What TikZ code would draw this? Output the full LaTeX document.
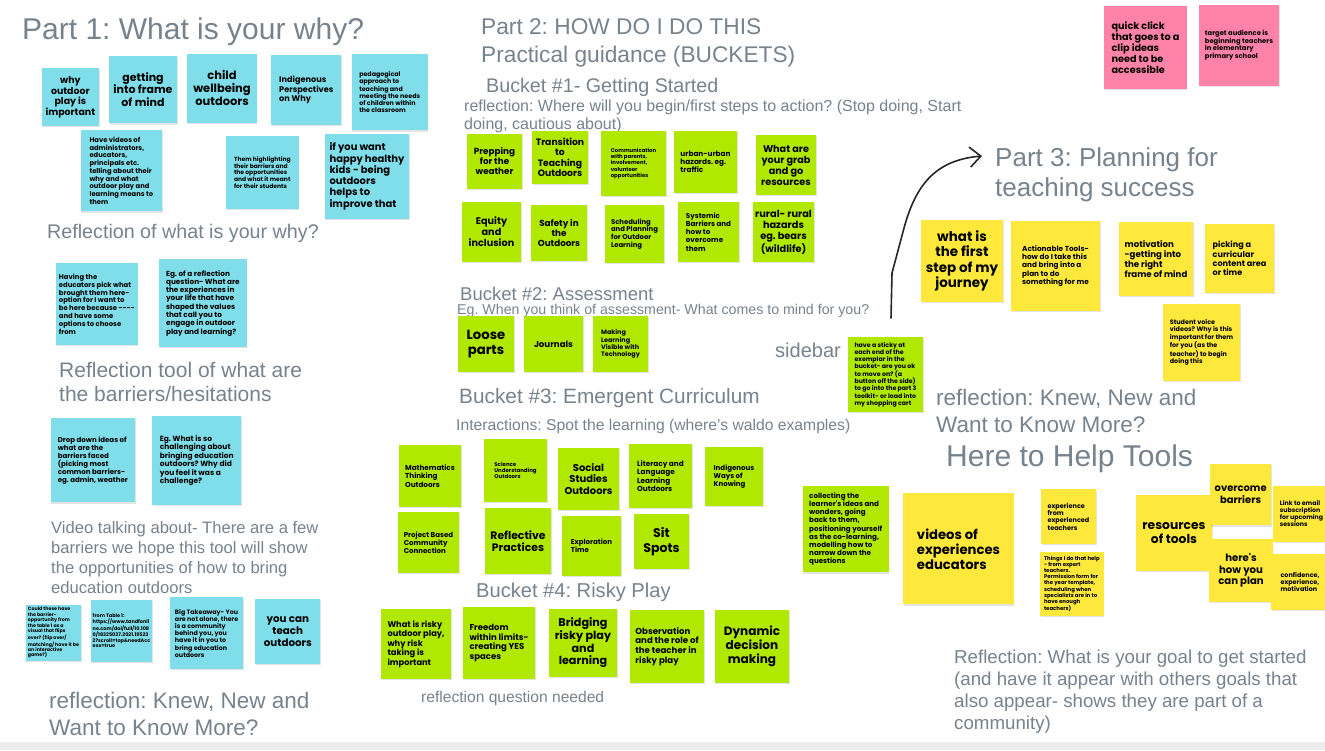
\documentclass[tikz,border=0pt]{standalone}
\usepackage{fontspec}
\setmainfont{Liberation Sans}
\newfontfamily\stkfont{Poppins}
\usetikzlibrary{shadows,arrows.meta}
\definecolor{stcyan}{HTML}{7FDEEA}
\definecolor{stgreen}{HTML}{B0E800}
\definecolor{styellow}{HTML}{FEE83C}
\definecolor{stpink}{HTML}{FF82A9}
\definecolor{hdgray}{HTML}{76838D}
\definecolor{bandgray}{HTML}{EDEDED}
\frenchspacing
\tikzset{
 sticky/.style={rectangle, inner sep=0pt, outer sep=0pt, text=black,
   drop shadow={opacity=0.22, shadow xshift=0.6pt, shadow yshift=-1.4pt}},
 hd/.style={text=hdgray, inner sep=0pt, align=left},
}
% #1 name #2 colour #3 x0 #4 y0 #5 x1 #6 y1 #7 align #8 line spacing #9 text
\newcommand\stk[9]{%
 \pgfmathsetmacro\stkW{#5-#3}%
 \pgfmathsetmacro\stkH{#6-#4}%
 \pgfmathsetmacro\stkX{(#3+#5)/2}%
 \pgfmathsetmacro\stkY{(#4+#6)/2}%
 \pgfmathsetmacro\stkF{#8*0.88}%
 \node[sticky, fill=#2, minimum width=\stkW pt, minimum height=\stkH pt, align=#7,
   font=\stkfont\bfseries\fontsize{\stkF}{#8}\selectfont] (#1) at (\stkX,\stkY) {#9};}
\begin{document}
\frenchspacing
\begin{tikzpicture}[x=1pt,y=-1pt]
\useasboundingbox (0,0) rectangle (1325,750);
\fill[white] (0,0) rectangle (1325,750);
\fill[bandgray] (0,742) rectangle (1325,750);

% ---------- headings ----------
\node[hd, anchor=base west, font=\fontsize{30}{36}\selectfont] (h1) at (22,39) {Part 1: What is your why?};
\node[hd, anchor=north west, font=\fontsize{22.7}{27.7}\selectfont] (h2) at (481,18.3) {Part 2: HOW DO I DO THIS\\Practical guidance (BUCKETS)};
\node[hd, anchor=base west, font=\fontsize{19.7}{24}\selectfont] (b1) at (486,92.3) {Bucket \#1- Getting Started};
\node[hd, anchor=north west, font=\fontsize{16}{18}\selectfont] (r1) at (464,99.5) {reflection: Where will you begin/first steps to action? (Stop doing, Start\\doing, cautious about)};
\node[hd, anchor=base west, font=\fontsize{19.7}{24}\selectfont] (r2) at (47,238) {Reflection of what is your why?};
\node[hd, anchor=north west, font=\fontsize{21}{24.5}\selectfont] (r3) at (59,362) {Reflection tool of what are\\the barriers/hesitations};
\node[hd, anchor=north west, font=\fontsize{16.6}{20}\selectfont] (r4) at (51,521) {Video talking about- There are a few\\barriers we hope this tool will show\\the opportunities of how to bring\\education outdoors};
\node[hd, anchor=north west, font=\fontsize{22.5}{27}\selectfont] (r5) at (49,692) {reflection: Knew, New and\\Want to Know More?};
\node[hd, anchor=base west, font=\fontsize{18.5}{22}\selectfont] (b2) at (460,300.5) {Bucket \#2: Assessment};
\node[hd, anchor=base west, font=\fontsize{14.2}{17}\selectfont] (r6) at (457,314.5) {Eg. When you think of assessment- What comes to mind for you?};
\node[hd, anchor=base west, font=\fontsize{20}{24}\selectfont] (sb) at (775,357.5) {sidebar};
\node[hd, anchor=base west, font=\fontsize{20.8}{25}\selectfont] (b3) at (459,403.5) {Bucket \#3: Emergent Curriculum};
\node[hd, anchor=base west, font=\fontsize{15.7}{18}\selectfont] (r7) at (456,430.5) {Interactions: Spot the learning (where's waldo examples)};
\node[hd, anchor=base west, font=\fontsize{20.1}{24}\selectfont] (b4) at (476,597) {Bucket \#4: Risky Play};
\node[hd, anchor=base west, font=\fontsize{15.6}{18}\selectfont] (r8) at (421,702.5) {reflection question needed};
\node[hd, anchor=north west, font=\fontsize{26}{30}\selectfont] (h3) at (995,147.5) {Part 3: Planning for\\teaching success};
\node[hd, anchor=north west, font=\fontsize{22.5}{27}\selectfont] (r9) at (936,388.5) {reflection: Knew, New and\\Want to Know More?};
\node[hd, anchor=base west, font=\fontsize{30}{36}\selectfont] (h4) at (946,466) {Here to Help Tools};
\node[hd, anchor=north west, font=\fontsize{18.7}{22}\selectfont] (r10) at (954,649.5) {Reflection: What is your goal to get started\\(and have it appear with others goals that\\also appear- shows they are part of a\\community)};

% ---------- Part 1 (cyan) ----------
\stk{c1}{stcyan}{41.7}{68.3}{99}{126}{center}{10.7}{why\\outdoor\\play is\\important}
\stk{c2}{stcyan}{109}{55.7}{177}{123.3}{center}{12.5}{getting\\into frame\\of mind}
\stk{c3}{stcyan}{187.3}{54}{256.7}{122.7}{center}{13}{child\\wellbeing\\outdoors}
\stk{c4}{stcyan}{271.3}{55}{341.3}{125}{left}{9.3}{Indigenous\\Perspectives\\on Why}
\stk{c5}{stcyan}{351.7}{54}{427.7}{130.3}{left}{7.2}{pedagogical\\approach to\\teaching and\\meeting the needs\\of children within\\the classroom}
\stk{c6}{stcyan}{80.7}{130}{162}{211.3}{left}{7.7}{Have videos of\\administrators,\\educators,\\principals etc.\\telling about their\\why and what\\outdoor play and\\learning means to\\them}
\stk{c7}{stcyan}{226}{136}{298.7}{209}{left}{6.8}{Them highlighting\\their barriers and\\the opportunities\\and what it meant\\for their students}
\stk{c8}{stcyan}{324.7}{134}{409.3}{218.7}{left}{11.3}{if you want\\happy healthy\\kids - being\\outdoors\\helps to\\improve that}
\stk{c9}{stcyan}{55.7}{263}{137.7}{345}{left}{7.8}{Having the\\educators pick what\\brought them here-\\option for I want to\\be here because {-}{-}{-}{-}\\and have some\\options to choose\\from}
\stk{c10}{stcyan}{159}{259.3}{246.7}{347}{left}{8.3}{Eg. of a reflection\\question- What are\\the experiences in\\your life that have\\shaped the values\\that call you to\\engage in outdoor\\play and learning?}
\stk{c11}{stcyan}{50.7}{418}{135}{502.3}{left}{8}{Drop down ideas of\\what are the\\barriers faced\\(picking most\\common barriers-\\eg. admin, weather}
\stk{c12}{stcyan}{152.3}{416}{241.3}{505}{left}{8.5}{Eg. What is so\\challenging about\\bringing education\\outdoors? Why did\\you feel it was a\\challenge?}
\stk{c13}{stcyan}{25.7}{605}{81.3}{660.7}{left}{5.4}{Could these have\\the barrier-\\opportunity from\\the table 1 as a\\visual that flips\\over? (flip over/\\matching/ have it be\\an interactive\\game?)}
\stk{c14}{stcyan}{91}{600}{152}{661.7}{left}{5.6}{from Table 1:\\https://www.tandfonli\\ne.com/doi/full/10.108\\0/18325037.2021.19523\\2?scroll=top\&needAcc\\ess=true}
\stk{c15}{stcyan}{170.3}{597.3}{243}{669}{left}{7.2}{Big Takeaway- You\\are not alone, there\\is a community\\behind you, you\\have it in you to\\bring education\\outdoors}
\stk{c16}{stcyan}{255.3}{599}{320.3}{664}{center}{11.7}{you can\\teach\\outdoors}

% ---------- Bucket 1 ----------
\stk{g1}{stgreen}{467}{134}{522}{189}{center}{10}{Prepping\\for the\\weather}
\stk{g2}{stgreen}{532}{131}{588}{184}{center}{10.5}{Transition\\to\\Teaching\\Outdoors}
\stk{g3}{stgreen}{601}{131}{666}{196}{left}{6.1}{Communication\\with parents,\\involvement,\\volunteer\\opportunities}
\stk{g4}{stgreen}{674}{131}{737}{193}{left}{8.3}{urban-urban\\hazards. eg.\\traffic}
\stk{g5}{stgreen}{756}{135}{816}{195}{center}{11}{What are\\your grab\\and go\\resources}
\stk{g6}{stgreen}{462}{202}{521}{262}{center}{11}{Equity\\and\\inclusion}
\stk{g7}{stgreen}{531}{205}{587}{261}{center}{10}{Safety in\\the\\Outdoors}
\stk{g8}{stgreen}{605}{205}{664}{263}{left}{7.8}{Scheduling\\and Planning\\for Outdoor\\Learning}
\stk{g9}{stgreen}{678}{202}{739}{262}{left}{8.1}{Systemic\\Barriers and\\how to\\overcome\\them}
\stk{g10}{stgreen}{753}{202}{814}{262}{center}{11.1}{rural- rural\\hazards\\eg. bears\\(wildlife)}

% ---------- Bucket 2 ----------
\stk{g11}{stgreen}{458}{316}{514}{372}{center}{15}{Loose\\parts}
\stk{g12}{stgreen}{524}{316}{583}{372}{center}{9.8}{Journals}
\stk{g13}{stgreen}{593}{316}{648}{372}{left}{7.3}{Making\\Learning\\Visible with\\Technology}
\stk{g14}{stgreen}{848}{337}{923}{412}{left}{7.1}{have a sticky at\\each end of the\\exemplar in the\\bucket- are you ok\\to move on? (a\\button off the side)\\to go into the part 3\\toolkit- or load into\\my shopping cart}

% ---------- Bucket 3 ----------
\stk{g15}{stgreen}{399}{445}{461}{507}{left}{8.2}{Mathematics\\Thinking\\Outdoors}
\stk{g16}{stgreen}{484}{439}{547}{502}{left}{6.2}{Science\\Understanding\\Outdoors}
\stk{g17}{stgreen}{558}{448}{619}{510}{center}{11.3}{Social\\Studies\\Outdoors}
\stk{g18}{stgreen}{629}{444}{692}{508}{left}{8.3}{Literacy and\\Language\\Learning\\Outdoors}
\stk{g19}{stgreen}{705}{447}{763}{506}{left}{8}{Indigenous\\Ways of\\Knowing}
\stk{g20}{stgreen}{398}{512}{459}{573}{left}{8}{Project Based\\Community\\Connection}
\stk{g21}{stgreen}{485}{508}{551}{574}{center}{12.3}{Reflective\\Practices}
\stk{g22}{stgreen}{562}{516}{621}{576}{left}{8}{Exploration\\Time}
\stk{g23}{stgreen}{634}{514}{689}{569}{center}{14.3}{Sit\\Spots}

% ---------- Bucket 4 ----------
\stk{g24}{stgreen}{381}{609}{451}{679}{left}{9.4}{What is risky\\outdoor play,\\why risk\\taking is\\important}
\stk{g25}{stgreen}{463}{607}{535}{679}{left}{9.7}{Freedom\\within limits-\\creating YES\\spaces}
\stk{g26}{stgreen}{549}{609}{617}{677}{center}{12.7}{Bridging\\risky play\\and\\learning}
\stk{g27}{stgreen}{630}{610}{704}{683}{left}{9.8}{Observation\\and the role of\\the teacher in\\risky play}
\stk{g28}{stgreen}{715}{610}{789}{683}{center}{13.7}{Dynamic\\decision\\making}

% ---------- pink ----------
\stk{p1}{stpink}{1104.3}{6}{1186.7}{89}{left}{11}{quick click\\that goes to a\\clip ideas\\need to be\\accessible}
\stk{p2}{stpink}{1199}{4.7}{1279}{85.7}{left}{7.7}{target audience is\\beginning teachers\\in elementary\\primary school}

% ---------- Part 3 ----------
\stk{y1}{styellow}{921}{220}{1003}{302}{center}{15.3}{what is\\the first\\step of my\\journey}
\stk{y2}{styellow}{1011}{221}{1100}{311}{left}{8.3}{Actionable Tools-\\how do I take this\\and bring into a\\plan to do\\something for me}
\stk{y3}{styellow}{1119}{222}{1193}{296}{left}{9.8}{motivation\\-getting into\\the right\\frame of mind}
\stk{y4}{styellow}{1205}{224}{1274}{293}{left}{9.2}{picking a\\curricular\\content area\\or time}
\stk{y5}{styellow}{1163}{304}{1240}{381}{left}{7.3}{Student voice\\videos? Why is this\\important for them\\for you (as the\\teacher) to begin\\doing this}

% ---------- Here to Help ----------
\stk{g29}{stgreen}{802.7}{486}{888.7}{572.3}{left}{8.1}{collecting the\\learner's ideas and\\wonders, going\\back to them,\\positioning yourself\\as the co-learning,\\modelling how to\\narrow down the\\questions}
\stk{y6}{styellow}{903.3}{493.3}{1013.7}{604.3}{left}{15}{videos of\\experiences\\educators}
\stk{y7}{styellow}{1041}{489.3}{1096}{544}{left}{7.4}{experience\\from\\experienced\\teachers}
\stk{y8}{styellow}{1040}{552}{1103.7}{616}{left}{6.1}{Things I do that help\\- from expert\\teachers.\\Permission form for\\the year template,\\scheduling when\\specialists are in to\\have enough\\teachers)}
\stk{y9}{styellow}{1136}{495.3}{1212}{571}{center}{14}{resources\\of tools}
\stk{y10}{styellow}{1210}{464}{1271.3}{525.3}{center}{11.3}{overcome\\barriers}
\stk{y11}{styellow}{1209.3}{539}{1272.7}{602}{center}{11.5}{here's\\how you\\can plan}
\stk{y12}{styellow}{1273}{485.7}{1330}{542}{left}{7.1}{Link to email\\subscription\\for upcoming\\sessions}
\stk{y13}{styellow}{1271}{554}{1329}{610}{left}{7.3}{confidence,\\experience,\\motivation}

% ---------- arrow ----------
\coordinate (arrS) at (891,318);
\coordinate (arrK) at (892,273);
\coordinate (arrE) at (982,156);
\draw[line width=1.6pt, black!85, line cap=round, line join=round,
  -{Straight Barb[length=11pt,width=20pt,line width=1.6pt]}]
  (arrS) -- (arrK) -- (904,228) .. controls (916,184) and (936,160) .. (arrE);
\end{tikzpicture}
\end{document}
